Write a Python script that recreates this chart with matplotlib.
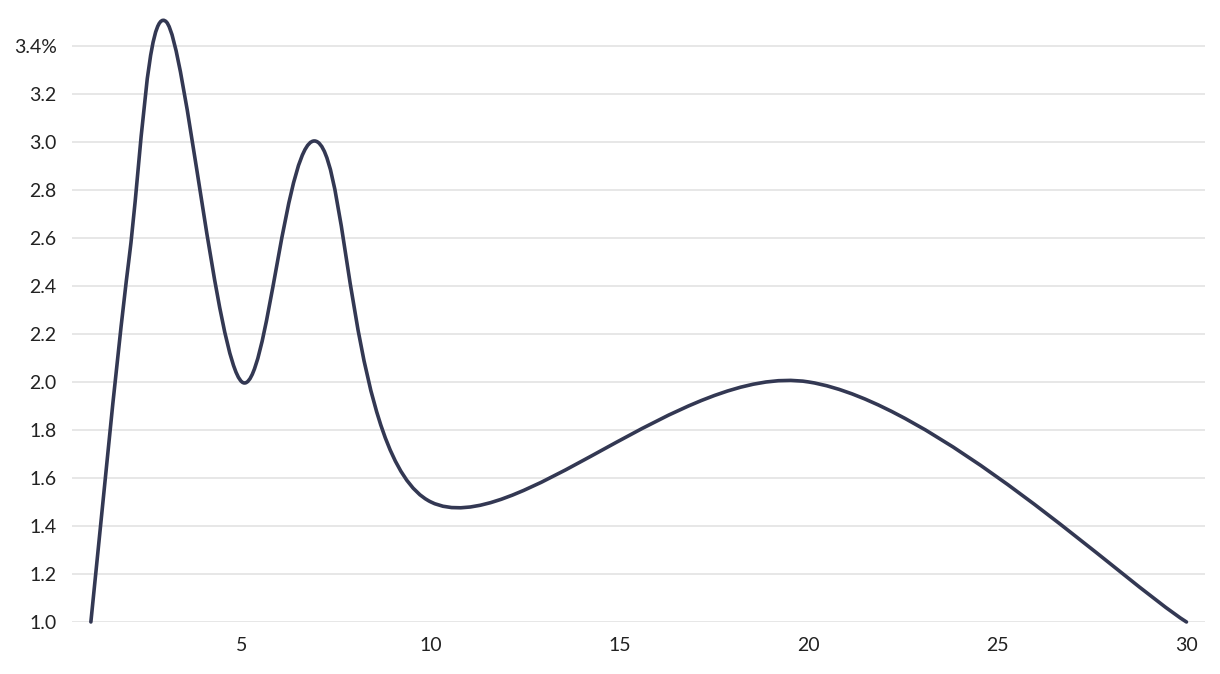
import numpy as np
import matplotlib.pyplot as plt
from matplotlib.path import Path
from matplotlib.patches import PathPatch

plt.rcParams['font.family'] = ['Lato', 'DejaVu Sans']

# data
x = [1, 2, 3, 5, 7, 10, 20, 30]
y = [1.0, 2.5, 3.5, 2.0, 3.0, 1.5, 2.0, 1.0]
yticks = [1.0, 1.2, 1.4, 1.6, 1.8, 2.0, 2.2, 2.4, 2.6, 2.8, 3.0, 3.2, 3.4]
xticks = [5, 10, 15, 20, 25, 30]

fig = plt.figure(figsize=(12.2, 6.74), dpi=100)
ax = fig.add_axes([0.059, 0.0772, 0.929, 0.908])
ax.set_xlim(0.5, 30.5)
ax.set_ylim(1.0, 3.55)

# cardinal (catmull-rom) spline as cubic bezier segments
pts = np.column_stack([x, y])
ext = np.vstack([pts[0], pts, pts[-1]])
verts = [tuple(pts[0])]
codes = [Path.MOVETO]
for i in range(1, len(ext) - 2):
    p0, p1, p2, p3 = ext[i - 1], ext[i], ext[i + 1], ext[i + 2]
    c1 = p1 + (p2 - p0) / 6
    c2 = p2 - (p3 - p1) / 6
    verts += [tuple(c1), tuple(c2), tuple(p2)]
    codes += [Path.CURVE4] * 3
ax.add_patch(PathPatch(Path(verts, codes), facecolor='none', edgecolor='#333853',
                       lw=2.6, capstyle='round', joinstyle='round', clip_on=False, zorder=3))

ax.set_yticks(yticks)
ax.set_yticklabels(['3.4%' if v == 3.4 else f'{v:.1f}' for v in yticks])
ax.set_xticks(xticks)
ax.grid(axis='y', color='#e3e3e3', lw=1.2)
ax.tick_params(axis='both', length=0, labelsize=14, colors='#222222')
ax.tick_params(axis='y', pad=11)
ax.tick_params(axis='x', pad=11)
for s in ax.spines.values():
    s.set_visible(False)

fig.savefig('out.png', dpi=100)
